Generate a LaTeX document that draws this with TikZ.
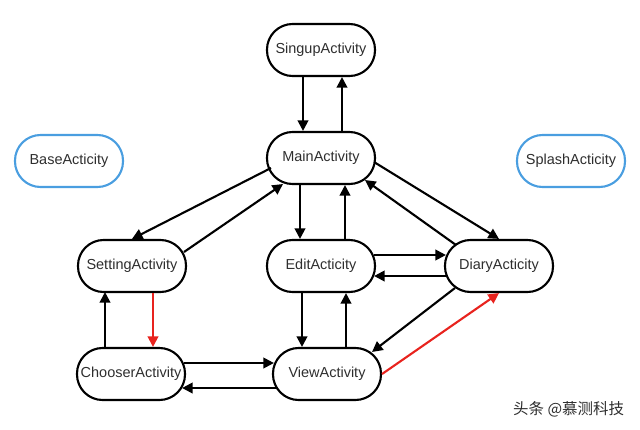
\documentclass[tikz,border=0pt]{standalone}
\usepackage{fontspec}
\setmainfont{Liberation Sans}
\newfontfamily\cjkfont{Noto Sans CJK SC}
\usetikzlibrary{calc,arrows.meta}
\definecolor{ActBlue}{HTML}{4A9EE0}
\definecolor{ActRed}{HTML}{E8231E}
\definecolor{ActText}{HTML}{2E2E2E}

\begin{document}
\begin{tikzpicture}[
    x=0.025cm, y=-0.025cm,
    act/.style={
      rounded corners=0.64cm,
      draw=black,
      line width=1.5pt,
      minimum width=2.7cm,
      minimum height=1.3cm,
      inner xsep=2pt,
      text=ActText,
      font=\fontsize{10.3}{12}\selectfont
    },
    actfree/.style={act, draw=ActBlue},
    flow/.style={line width=1.5pt, -{Triangle[length=7.5pt,width=7.5pt]}},
    redflow/.style={flow, draw=ActRed}
  ]
  \useasboundingbox (0,0) rectangle (640,429);

  \node[act] (singup) at (321,50) {SingupActivity};
  \node[act] (main) at (321,158) {MainActivity};
  \node[actfree] (base) at (69,161) {BaseActicity};
  \node[actfree] (splash) at (571,161) {SplashActicity};
  \node[act] (setting) at (132,266) {SettingActivity};
  \node[act] (edit) at (321,266) {EditActicity};
  \node[act] (diary) at (499,266) {DiaryActicity};
  \node[act] (chooser) at (131,374) {ChooserActivity};
  \node[act] (view) at (327,374) {ViewActivity};

  \draw[flow] ($(singup.south)+(-18,0)$) -- ($(main.north)+(-18,0)$);
  \draw[flow] ($(main.north)+(21,0)$) -- ($(singup.south)+(21,0)$);
  \draw[flow] ($(main.south)+(-21,0)$) -- ($(edit.north)+(-21,0)$);
  \draw[flow] ($(edit.north)+(24,0)$) -- ($(main.south)+(24,0)$);
  \draw[flow] ($(edit.south)+(-19,0)$) -- ($(view.north)+(-25,0)$);
  \draw[flow] ($(view.north)+(19,0)$) -- ($(edit.south)+(25,0)$);

  \draw[flow] ($(edit.east)+(-2,-11)$) -- ($(diary.west)+(2,-11)$);
  \draw[flow] ($(diary.west)+(2,10)$) -- ($(edit.east)+(-2,10)$);
  \draw[flow] ($(chooser.east)+(-2,-11)$) -- ($(view.west)+(2,-11)$);
  \draw[flow] ($(view.west)+(4,14)$) -- ($(chooser.east)+(-4,14)$);
  \draw[flow] ($(chooser.north)+(-26,1)$) -- ($(setting.south)+(-27,-1)$);
  \draw[redflow] ($(setting.south)+(21,0)$) -- ($(chooser.north)+(22,0)$);

  \draw[flow] ($(main)+(-50,10)$) -- (setting.north);
  \draw[flow] ($(setting)+(52,-14)$) -- ($(main)+(-38,26)$);
  \draw[flow] ($(main)+(53,4)$) -- (diary.north);
  \draw[flow] ($(diary)+(-43,-21)$) -- ($(main)+(44,22)$);
  \draw[flow] ($(diary)+(-44,22)$) -- ($(view)+(45,-22)$);
  \draw[redflow] (view.east) -- (diary.south);

  \node[text=ActText, font=\cjkfont\fontsize{11}{13}\selectfont, anchor=east] (mark) at (629,409) {头条 @慕测科技};
\end{tikzpicture}
\end{document}
